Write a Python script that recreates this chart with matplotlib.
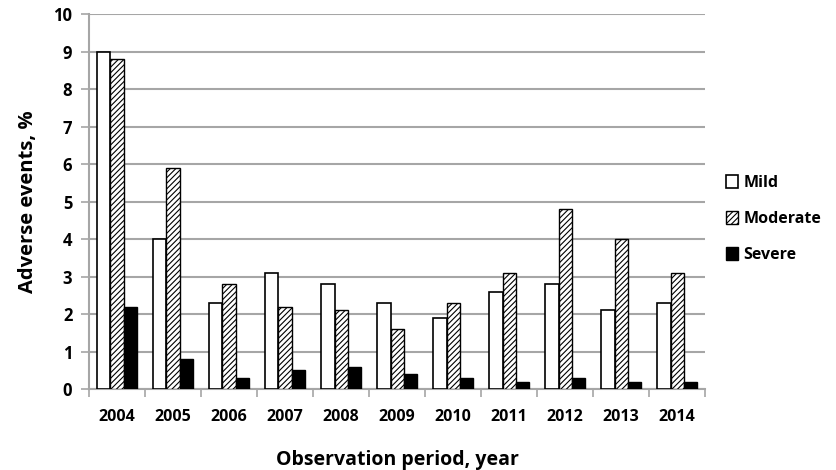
import numpy as np
import matplotlib.pyplot as plt
from matplotlib.patches import Patch

years = ["2004", "2005", "2006", "2007", "2008", "2009", "2010", "2011", "2012", "2013", "2014"]
mild = [9.0, 4.0, 2.3, 3.1, 2.8, 2.3, 1.9, 2.6, 2.8, 2.1, 2.3]
moderate = [8.8, 5.9, 2.8, 2.2, 2.1, 1.6, 2.3, 3.1, 4.8, 4.0, 3.1]
severe = [2.2, 0.8, 0.3, 0.5, 0.6, 0.4, 0.3, 0.2, 0.3, 0.2, 0.2]

plt.rcParams["font.family"] = ["Open Sans", "DejaVu Sans"]
plt.rcParams["hatch.linewidth"] = 0.8

fig = plt.figure(figsize=(8.36, 4.70), dpi=100)
ax = fig.add_axes([0.1065, 0.172, 0.737, 0.798])

x = np.arange(len(years))
w = 0.235
grid_c = "#a6a6a6"

ax.bar(x - w, mild, w, facecolor="white", edgecolor="black", linewidth=1.2, zorder=3)
ax.bar(x, moderate, w, facecolor="white", edgecolor="black", linewidth=1.0, hatch="//////", zorder=3)
ax.bar(x + w, severe, w, facecolor="black", edgecolor="black", linewidth=1.0, zorder=3)

ax.set_xlim(-0.5, len(years) - 0.5)
ax.set_ylim(0, 10)
ax.set_yticks(range(0, 11))
ax.yaxis.grid(True, color=grid_c, linewidth=1.5, zorder=0)
ax.set_axisbelow(True)

ax.set_xticks(x)
ax.set_xticklabels(years, fontsize=11.5, fontweight="bold")
ax.set_xticks(np.arange(-0.5, len(years)), minor=True)
ax.tick_params(axis="x", which="major", length=0, pad=14)
ax.tick_params(axis="x", which="minor", length=6, color=grid_c, width=1.2)
ax.tick_params(axis="y", length=6, color=grid_c, width=1.2, labelsize=12, pad=6)
for lab in ax.get_yticklabels():
    lab.set_fontweight("bold")

for s in ["top", "right"]:
    ax.spines[s].set_visible(False)
for s in ["left", "bottom"]:
    ax.spines[s].set_color(grid_c)
    ax.spines[s].set_linewidth(1.5)

ax.set_ylabel("Adverse events, %", fontsize=14.5, fontweight="bold", labelpad=11)
ax.set_xlabel("Observation period, year", fontsize=14, fontweight="bold", labelpad=18)

handles = [
    Patch(facecolor="white", edgecolor="black", linewidth=1.2, label="Mild"),
    Patch(facecolor="white", edgecolor="black", linewidth=1.0, hatch="//////", label="Moderate"),
    Patch(facecolor="black", edgecolor="black", label="Severe"),
]
leg = fig.legend(handles=handles, loc="center left", bbox_to_anchor=(0.868, 0.534),
                 frameon=False, handlelength=0.8, handleheight=0.8, handletextpad=0.3,
                 labelspacing=1.25, borderpad=0.0, borderaxespad=0.0,
                 prop={"size": 11.5, "weight": "bold"})

fig.savefig("out.png", dpi=100)
